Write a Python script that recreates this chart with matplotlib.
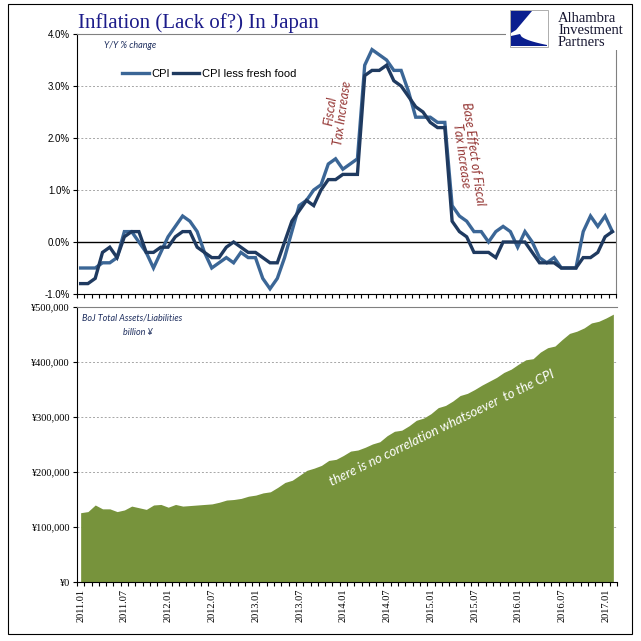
import numpy as np
import matplotlib.pyplot as plt
from matplotlib.patches import Rectangle, Polygon

# monthly data, 2011.01 .. 2017.02
months = [f"{y}.{m:02d}" for y in range(2011, 2018) for m in range(1, 13)][:74]

cpi = [-0.5, -0.5, -0.5, -0.4, -0.4, -0.3, 0.2, 0.2, 0.0, -0.2, -0.5, -0.2,
       0.1, 0.3, 0.5, 0.4, 0.2, -0.2, -0.5, -0.4, -0.3, -0.4, -0.2, -0.3,
       -0.3, -0.7, -0.9, -0.7, -0.3, 0.2, 0.7, 0.8, 1.0, 1.1, 1.5, 1.6,
       1.4, 1.5, 1.6, 3.4, 3.7, 3.6, 3.5, 3.3, 3.3, 2.9, 2.4, 2.4,
       2.4, 2.3, 2.3, 0.7, 0.5, 0.4, 0.2, 0.2, 0.0, 0.2, 0.3, 0.2,
       -0.1, 0.2, 0.0, -0.3, -0.4, -0.3, -0.5, -0.5, -0.5, 0.2, 0.5, 0.3,
       0.5, 0.2]

core = [-0.8, -0.8, -0.7, -0.2, -0.1, -0.3, 0.1, 0.2, 0.2, -0.2, -0.2, -0.1,
        -0.1, 0.1, 0.2, 0.2, -0.1, -0.2, -0.3, -0.3, -0.1, 0.0, -0.1, -0.2,
        -0.2, -0.3, -0.4, -0.4, 0.0, 0.4, 0.6, 0.8, 0.7, 1.0, 1.2, 1.2,
        1.3, 1.3, 1.3, 3.2, 3.3, 3.3, 3.4, 3.1, 3.0, 2.8, 2.6, 2.5,
        2.3, 2.2, 2.2, 0.4, 0.2, 0.1, -0.2, -0.2, -0.2, -0.3, 0.0, 0.0,
        0.0, 0.0, -0.2, -0.4, -0.4, -0.4, -0.5, -0.5, -0.5, -0.3, -0.3, -0.2,
        0.1, 0.2]

boj = [126000, 128000, 140000, 133000, 133000, 128000, 131000, 138000, 135000, 132000, 140000, 141000,
       136000, 141000, 138000, 139000, 140000, 141000, 142000, 145000, 149000, 150000, 152000, 156000,
       158000, 162000, 164000, 172000, 181000, 185000, 194000, 203000, 207000, 212000, 221000, 223000,
       230000, 238000, 240000, 245000, 251000, 255000, 266000, 274000, 276000, 284000, 294000, 298000,
       306000, 317000, 321000, 329000, 339000, 343000, 350000, 358000, 365000, 372000, 381000, 387000,
       396000, 404000, 406000, 418000, 426000, 429000, 441000, 452000, 456000, 462000, 471000, 474000,
       480000, 487000]

W = 641.0
def fx(px):
    return px / W
def fy(py):
    return 1 - py / W

fig = plt.figure(figsize=(6.41, 6.41), dpi=100)
x = np.arange(len(months))

navy = '#1f3a60'
steel = '#3b6696'
red = '#953735'
green = '#77933c'
title_c = '#1c1c8a'

# ---- top: inflation ----
ax1 = fig.add_axes([fx(77), fy(294), fx(616) - fx(77), fy(34) - fy(294)])
ax1.plot(x, cpi, color=steel, lw=2.4, label='CPI', solid_joinstyle='miter')
ax1.plot(x, core, color=navy, lw=2.4, label='CPI less fresh food', solid_joinstyle='miter')
ax1.axhline(0, color='black', lw=1.0, zorder=1)
ax1.set_xlim(-0.5, len(months) - 0.5)
ax1.set_ylim(-1, 4)
ax1.set_yticks([-1, 0, 1, 2, 3, 4])
ax1.set_yticklabels(['-1.0%', '0.0%', '1.0%', '2.0%', '3.0%', '4.0%'],
                    fontsize=7, family='Liberation Sans')
for v in [1, 2, 3]:
    ax1.axhline(v, color='#a6a6a6', lw=0.7, ls=(0, (2, 2)), zorder=0)
ax1.set_xticks([])
ax1.set_xticks(np.arange(-0.5, len(months), 1), minor=True)
ax1.tick_params(axis='x', which='minor', direction='out', length=3, width=0.8)
ax1.tick_params(axis='y', direction='out', length=3, width=0.8, pad=2)
ax1.spines['top'].set_color('#808080')
ax1.spines['right'].set_color('#808080')
ax1.legend(loc='upper left', bbox_to_anchor=(0.065, 0.905), ncol=2, frameon=False,
           prop={'family': 'Liberation Sans', 'size': 8}, handlelength=2.4,
           handletextpad=0.2, columnspacing=0.3)
ax1.text(0.05, 0.975, 'Y/Y % change', transform=ax1.transAxes, fontsize=6.5,
         style='italic', color='#1f2f5f', family='Lato', va='top')
ax1.text(35.1, 2.5, 'Fiscal\nTax Increase', rotation=82, color=red, fontsize=9,
         style='italic', family='Lato', ha='center', va='center',
         multialignment='center', linespacing=1.0)
ax1.text(53.1, 1.67, 'Base Effect of Fiscal\nTax Increase', rotation=-82, color=red,
         fontsize=9, style='italic', family='Lato', ha='center', va='center',
         multialignment='center', linespacing=1.0)

# ---- bottom: BoJ balance sheet ----
ax2 = fig.add_axes([fx(77), fy(582), fx(617) - fx(77), fy(307) - fy(582)])
ax2.fill_between(x, boj, 0, color=green, lw=0)
ax2.set_xlim(-0.5, len(months) - 0.5)
ax2.set_ylim(0, 500000)
yt = [0, 100000, 200000, 300000, 400000, 500000]
ax2.set_yticks(yt)
ax2.set_yticklabels(['¥' + format(v, ',') for v in yt], fontsize=7.5, family='Liberation Serif')
for v in yt[1:-1]:
    ax2.axhline(v, color='#a6a6a6', lw=0.7, ls=(0, (2, 2)), zorder=0)
ax2.set_xticks(x[::6])
ax2.set_xticklabels(months[::6], rotation=90, fontsize=7.5, family='Liberation Serif')
ax2.set_xticks(np.arange(-0.5, len(months), 1), minor=True)
ax2.tick_params(axis='x', which='major', length=0, pad=5)
ax2.tick_params(axis='x', which='minor', direction='out', length=3, width=0.8)
ax2.tick_params(axis='y', direction='out', length=3, width=0.8, pad=2)
ax2.spines['top'].set_color('#808080')
ax2.spines['right'].set_visible(False)
ax2.text(0.01, 0.975, 'BoJ Total Assets/Liabilities', transform=ax2.transAxes,
         fontsize=6.5, style='italic', color='#1f2f5f', family='Lato', va='top')
ax2.text(0.085, 0.925, 'billion ¥', transform=ax2.transAxes,
         fontsize=6.5, style='italic', color='#1f2f5f', family='Lato', va='top')
ax2.text(49.5, 280000, 'there is no correlation whatsoever  to the CPI', rotation=26,
         color='white', fontsize=9.5, style='italic', family='Lato',
         ha='center', va='center')

# ---- title, logo, frame ----
fig.text(fx(78), fy(23), 'Inflation (Lack of?) In Japan', fontsize=15,
         family='Liberation Serif', color=title_c, va='center')
fig.add_artist(Rectangle((fx(506), fy(50)), fx(641) - fx(506), fy(0) - fy(50),
                         transform=fig.transFigure, facecolor='white',
                         edgecolor='none', zorder=5))
fig.add_artist(Rectangle((fx(510), fy(47)), fx(38), fy(0) - fy(37),
                         transform=fig.transFigure, facecolor='white',
                         edgecolor='#a0a0a0', lw=0.6, zorder=6))
logo_top = [(511, 11), (532, 11), (516, 30), (511, 33)]
t = np.linspace(0, 1, 20)
curve = [(520 + 27 * tt, 34 + 11 * tt ** 0.5) for tt in t]
logo_bot = [(511, 46), (511, 36)] + curve + [(547, 46)]
for pts in [logo_top, logo_bot]:
    fig.add_artist(Polygon([(fx(a), fy(b)) for a, b in pts], closed=True,
                           transform=fig.transFigure, facecolor='#0b1f8f',
                           edgecolor='none', zorder=7))
fig.text(fx(558), fy(30), 'Alhambra\nInvestment\nPartners', fontsize=10.5,
         family='Liberation Serif', color='#151530', va='center', ha='left',
         linespacing=0.9, zorder=7)
fig.add_artist(Rectangle((fx(8), fy(634)), fx(624), fy(4) - fy(634),
                         transform=fig.transFigure, facecolor='none',
                         edgecolor='black', lw=0.8, zorder=8))

fig.savefig('out.png', dpi=100)
